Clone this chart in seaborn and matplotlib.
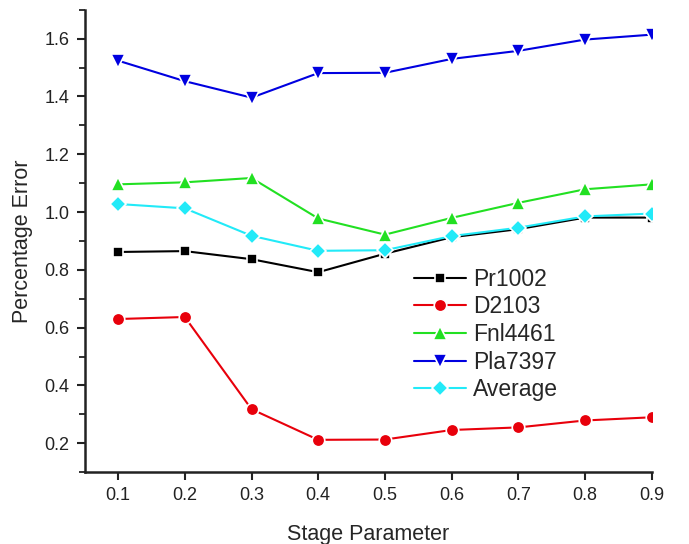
import matplotlib
matplotlib.use('Agg')
import seaborn as sns
import matplotlib.pyplot as plt
import matplotlib.ticker as ticker
import pandas as pd

# data
stage = [0.1, 0.2, 0.3, 0.4, 0.5, 0.6, 0.7, 0.8, 0.9]
pr1002 = [0.862, 0.865, 0.837, 0.792, 0.856, 0.913, 0.941, 0.981, 0.981]
d2103 = [0.630, 0.637, 0.318, 0.212, 0.213, 0.246, 0.255, 0.279, 0.290]
fnl4461 = [1.096, 1.103, 1.118, 0.978, 0.922, 0.980, 1.032, 1.079, 1.096]
pla7397 = [1.524, 1.453, 1.396, 1.481, 1.482, 1.530, 1.558, 1.597, 1.614]
average = [1.028, 1.013, 0.918, 0.866, 0.868, 0.917, 0.946, 0.985, 0.995]

names = ["Pr1002", "D2103", "Fnl4461", "Pla7397", "Average"]
series = [pr1002, d2103, fnl4461, pla7397, average]
colours = ["#000000", "#e8000b", "#22e022", "#0000e0", "#22eaf8"]
markers = ["s", "o", "^", "v", "D"]
markerSizes = {"s": 7.5, "o": 9, "^": 10, "v": 10, "D": 8.5}		#squares look bigger than the rest at the same size

frames = []
for name, vals in zip(names, series):
	frames.append(pd.DataFrame({"Stage Parameter": stage, "Percentage Error": vals, "Instance": name}))
df = pd.concat(frames, ignore_index=True)

sns.set_theme(style="ticks")
plt.rcParams['font.family'] = ['Liberation Sans', 'DejaVu Sans']

fig, ax = plt.subplots(figsize=(6.89, 5.44), dpi=100)
fig.subplots_adjust(left=0.123, right=0.946, bottom=0.132, top=0.982)

#white marker edges give the small gap between line and marker
sns.lineplot(ax=ax, data=df, x="Stage Parameter", y="Percentage Error", hue="Instance", style="Instance",
	hue_order=names, style_order=names, palette=dict(zip(names, colours)),
	markers=dict(zip(names, markers)), dashes=False, linewidth=1.5,
	markersize=8, markeredgewidth=1.2, markeredgecolor="white")

for line in ax.lines:
	m = line.get_marker()
	if m in markerSizes:
		line.set_markersize(markerSizes[m])

ax.set_xlim(0.05, 0.9)
ax.set_ylim(0.1, 1.7)
ax.xaxis.set_major_locator(ticker.FixedLocator(stage))
ax.xaxis.set_major_formatter(ticker.FormatStrFormatter('%.1f'))
ax.yaxis.set_major_locator(ticker.MultipleLocator(0.2))
ax.yaxis.set_minor_locator(ticker.MultipleLocator(0.1))
ax.yaxis.set_major_formatter(ticker.FormatStrFormatter('%.1f'))

for side in ["top", "right"]:
	ax.spines[side].set_visible(False)
for side in ["left", "bottom"]:
	ax.spines[side].set_linewidth(1.8)
	ax.spines[side].set_color("#222222")

ax.tick_params(axis='both', which='major', direction='out', length=6, width=1.5, labelsize=13, colors="#222222", pad=5)
ax.tick_params(axis='y', which='minor', direction='out', length=4, width=1.3, colors="#222222")

ax.set_xlabel("Stage Parameter", fontsize=15.5, labelpad=14)
ax.set_ylabel("Percentage Error", fontsize=15.5, labelpad=8)

leg = ax.legend(loc="upper left", bbox_to_anchor=(0.58, 0.442), frameon=False, fontsize=16.5,
	handlelength=2.3, labelspacing=0.2, handletextpad=0.3, borderpad=0, borderaxespad=0)
for h in leg.get_lines():
	m = h.get_marker()
	if m in markerSizes:
		h.set_markersize(markerSizes[m])

plt.savefig("out.png", dpi=100)
plt.close("all")
